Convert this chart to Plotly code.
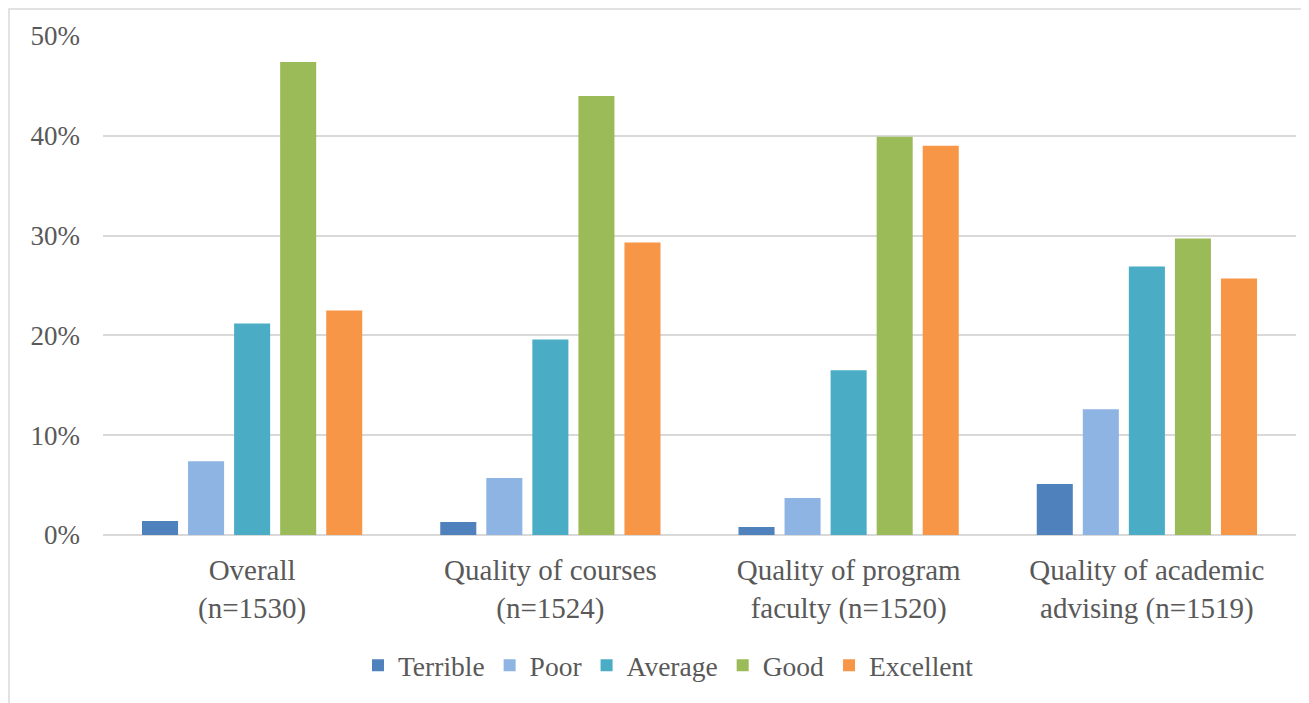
import plotly.graph_objects as go

categories = [
    "Overall<br>(n=1530)",
    "Quality of courses<br>(n=1524)",
    "Quality of program<br>faculty (n=1520)",
    "Quality of academic<br>advising (n=1519)",
]
ratings = ["Terrible", "Poor", "Average", "Good", "Excellent"]
terrible = [1.4, 1.3, 0.8, 5.1]
poor = [7.4, 5.7, 3.7, 12.6]
average = [21.2, 19.6, 16.5, 26.9]
good = [47.4, 44.0, 39.9, 29.7]
excellent = [22.5, 29.3, 39.0, 25.7]
colors = ["#4F81BD", "#8EB4E3", "#4BACC6", "#9BBB59", "#F79646"]

series = [terrible, poor, average, good, excellent]
font_family = "Liberation Serif, Times New Roman, serif"
text_color = "#595959"

fig = go.Figure()
for name, vals, col in zip(ratings, series, colors):
    fig.add_trace(go.Bar(
        x=categories, y=[v / 100 for v in vals], name=name,
        marker=dict(color=col, line=dict(width=0)),
    ))

# page body adds ~8px offset, so figure is a bit smaller than the window
fig.update_layout(
    width=1301, height=695,
    barmode="group", bargap=0.228, bargroupgap=0.217,
    plot_bgcolor="white", paper_bgcolor="white",
    margin=dict(l=95, r=13, t=28, b=168),
    font=dict(family=font_family, size=27, color=text_color),
    showlegend=True,
    legend=dict(
        orientation="h", x=0.474, xanchor="center", y=-0.212, yanchor="top",
        font=dict(size=27.5, color=text_color), itemwidth=30,
        traceorder="normal",
    ),
    xaxis=dict(showgrid=False, ticks="", tickfont=dict(size=29),
               ticklabelstandoff=15),
    yaxis=dict(
        range=[0, 0.5], dtick=0.1, tickformat=".0%",
        showgrid=True, gridcolor="#D9D9D9", gridwidth=1.5,
        zeroline=True, zerolinecolor="#D9D9D9", zerolinewidth=1.5,
        ticks="", ticklabelstandoff=22, tickfont=dict(size=27),
    ),
    shapes=[dict(
        type="rect", xref="paper", yref="paper",
        x0=-0.0788, x1=1.03, y0=-0.45, y1=1.054,
        line=dict(color="#D9D9D9", width=1.5), fillcolor="rgba(0,0,0,0)",
        layer="below",
    )],
)

fig.write_html("out.html")
